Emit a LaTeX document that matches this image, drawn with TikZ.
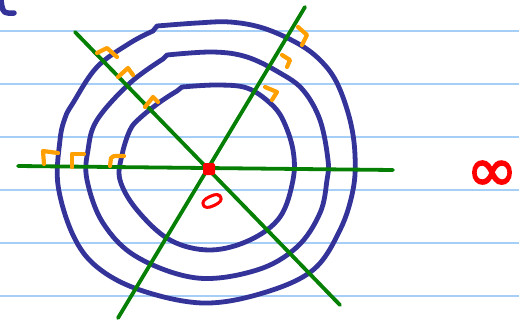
\documentclass[tikz,border=0pt]{standalone}
\usepackage{fontspec}
\newfontfamily\djv[FakeBold=2.5]{DejaVu Sans}
\newfontfamily\zerofont[FakeBold=3]{Liberation Sans}
\definecolor{paper}{HTML}{A6CFF7}
\definecolor{ink}{HTML}{333399}
\definecolor{grn}{HTML}{058005}
\definecolor{org}{HTML}{FFA000}
\tikzset{
  ruling/.style={paper, line width=1.8pt},
  loop/.style={ink, line width=4.8pt, line cap=round, line join=round},
  axis/.style={grn, line width=3.8pt, line cap=round},
  rmark/.style={org, line width=4.2pt, line cap=round, line join=round},
}
\begin{document}
\begin{tikzpicture}[x=1pt,y=-1pt]
\useasboundingbox (0,0) rectangle (519,322);
\fill[white] (0,0) rectangle (519,322);
% ruled paper
\foreach \yy in {31,84,137,190,243,296}
  \draw[ruling] (0,\yy) -- (519,\yy);
% corner fragment
\draw[loop, line width=5.5pt] (1,0) .. controls (2,9) and (3,13) .. (8,13) -- (14,13);
% loops
\draw[loop] plot[smooth, tension=0.6] coordinates {(157,26) (197,23) (230,22) (263,28) (297,43) (320,60) (337,83) (350,120) (355,155) (353,190) (340,230) (313,270) (263,293) (203,303) (140,290) (97,267) (73,235) (58,185) (60,140) (65,118) (73,103) (97,67) (130,43) (153,31)} -- (157,26);
\draw[loop] plot[smooth, tension=0.6] coordinates {(167,55) (213,52) (247,57) (280,73) (303,90) (320,120) (328,160) (327,180) (320,213) (297,247) (257,270) (197,278) (137,257) (103,223) (87,180) (88,150) (97,120) (130,83) (163,59)} -- (167,55);
\draw[loop] plot[smooth, tension=0.6] coordinates {(182,87) (217,85) (247,88) (270,103) (283,120) (293,150) (293,180) (280,217) (250,240) (210,250) (170,240) (137,210) (120,180) (122,155) (130,130) (140,118) (160,102) (177,91)} -- (182,87);
% axes
\coordinate (h1) at (18,166);
\coordinate (h2) at (393,170);
\coordinate (a1) at (75,32);
\coordinate (a2) at (340,305);
\coordinate (b1) at (305,7);
\coordinate (b2) at (118,318);
\draw[axis] (h1) -- (h2);
\draw[axis] (a1) -- (a2);
\draw[axis] (b1) -- (b2);
% right-angle marks
\draw[rmark] (44,164) -- (43,151) -- (58,153);
\draw[rmark] (72,167) -- (72,154) -- (84,154);
\draw[rmark] (110,166) -- (111,158) .. controls (112,156) .. (124,156);
\draw[rmark] (97,53) -- (107,48) -- (117,57);
\draw[rmark] (118,77) -- (128,68) -- (133,75);
\draw[rmark] (145,107) -- (153,97) -- (158,102);
\draw[rmark] (298,27) -- (307,35) -- (302,45);
\draw[rmark] (282,55) -- (290,60) -- (287,67);
\draw[rmark] (265,87) -- (277,92) -- (272,100);
% centre
\node[fill=red, minimum size=12pt, inner sep=0pt, rounded corners=1.5pt] (o) at (209,169) {};
\node[text=red, font=\zerofont\fontsize{30}{30}\selectfont, rotate=-65, xscale=0.85, inner sep=0pt] (zero) at (212,201) {0};
\node[text=red, font=\djv\fontsize{62}{62}\selectfont, inner sep=0pt] (inf) at (492,176) {∞};
\end{tikzpicture}
\end{document}
